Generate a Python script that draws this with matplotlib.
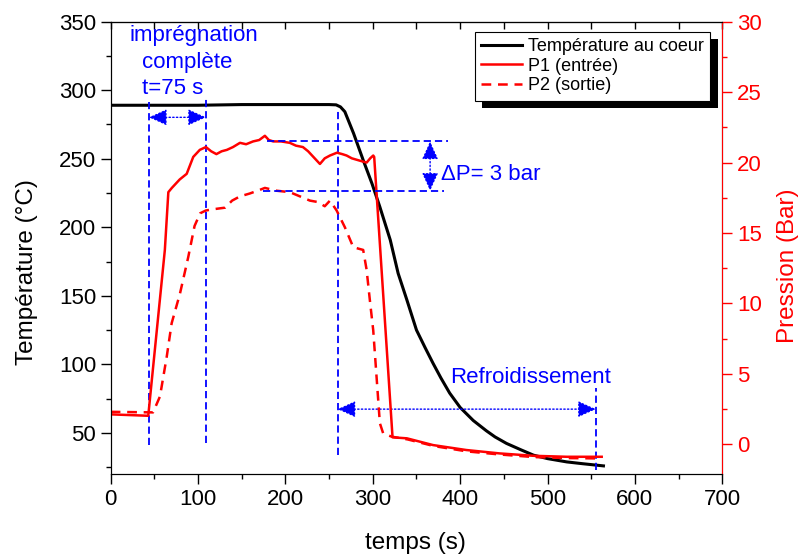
import matplotlib.pyplot as plt
from matplotlib.patches import Rectangle
from matplotlib.ticker import MultipleLocator
from matplotlib.transforms import IdentityTransform

plt.rcParams["font.family"] = ["Liberation Sans", "DejaVu Sans"]

BLUE = "#0000ff"
RED = "#ff0000"

# Température au coeur (°C), left axis
t_temp = [0, 50, 100, 150, 200, 250, 258, 263, 268, 278, 289, 299, 308, 320, 329, 339,
          350, 360, 369, 378, 388, 400, 415, 430, 440, 453, 470, 484, 500, 522, 540, 564]
temp = [289, 289, 289, 289.5, 289.5, 289.5, 289.3, 287.8, 284.3, 268.5, 249, 232, 215, 190.7,
        166.4, 147, 125, 112, 100.7, 90, 79, 68.5, 59, 51.5, 47, 42.3, 37.5, 33.7, 31.2, 28.8,
        27.5, 25.9]

# P1 (entrée), bar, right axis
t_p1 = [0, 43, 62, 66, 70, 79, 87, 94.5, 102, 109, 115, 121, 127, 133, 140, 148, 155, 163,
        170, 176.5, 181, 186, 195, 205, 212, 220, 226, 232, 239.5, 245, 251, 259, 265, 270,
        276, 281.5, 287, 293, 297, 300.5, 301.6, 322.6, 339, 369, 407, 445, 484, 522, 562]
p1 = [2.13, 2.03, 13.8, 17.9, 18.2, 18.8, 19.2, 20.4, 20.9, 21.1, 20.8, 20.6, 20.8, 20.9, 21.1,
      21.4, 21.3, 21.5, 21.6, 21.9, 21.6, 21.5, 21.5, 21.4, 21.2, 21.1, 20.8, 20.4, 19.9, 20.3,
      20.5, 20.7, 20.6, 20.5, 20.3, 20.2, 20.1, 20.0, 20.3, 20.5, 20.4, 0.5, 0.43, -0.05, -0.4,
      -0.64, -0.81, -0.88, -0.88]

# P2 (sortie), bar, right axis
t_p2 = [0, 48.5, 56.4, 64.1, 69.8, 79.3, 88.8, 96, 102.4, 109, 119, 131, 139, 148, 159, 168,
        176.5, 190, 205, 216.6, 228, 237, 245, 251, 258.6, 268.1, 277.6, 283, 289, 292.9, 296.7,
        300.5, 308.1, 311.9, 321.5, 340, 370, 408, 446, 484, 522, 562]
p2 = [2.31, 2.27, 3.4, 6.2, 8.6, 10.7, 13.3, 15.5, 16.4, 16.6, 16.7, 16.8, 17.3, 17.6, 17.8, 18.0,
      18.2, 18.0, 17.9, 17.6, 17.3, 17.2, 16.9, 17.3, 16.6, 15.4, 14.0, 13.9, 13.8, 12.4, 10.2,
      8.1, 1.5, 0.78, 0.55, 0.35, -0.12, -0.5, -0.72, -0.9, -0.97, -1.0]


def double_arrow(axis, x0, y0, x1, y1):
    axis.annotate(
        "",
        xy=(x1, y1),
        xytext=(x0, y0),
        arrowprops=dict(
            arrowstyle="<|-|>,head_length=0.55,head_width=0.25",
            color=BLUE,
            lw=1,
            linestyle=":",
            shrinkA=0,
            shrinkB=0,
            mutation_scale=20,
        ),
    )


fig, ax = plt.subplots(figsize=(7.98, 5.55), dpi=100)
fig.subplots_adjust(left=0.1387, right=0.9051, top=0.961, bottom=0.146)
ax2 = ax.twinx()

(l_t,) = ax.plot(t_temp, temp, color="black", lw=2.2, label="Température au coeur")
(l_p1,) = ax2.plot(t_p1, p1, color=RED, lw=1.8, label="P1 (entrée)")
(l_p2,) = ax2.plot(t_p2, p2, color=RED, lw=1.8, ls=(0, (3.9, 2.7)), label="P2 (sortie)")

ax.set_xlim(0, 700)
ax.set_ylim(20, 350)
ax2.set_ylim(-2.1, 30)

# blue construction lines
dash = dict(color=BLUE, lw=1.3, ls=(0, (4, 2.2)))
ax.plot([43.8, 43.8], [41, 291.6], **dash)
ax.plot([109, 109], [42.3, 293.4], **dash)
ax.plot([259.7, 259.7], [33.7, 285.5], **dash)
ax.plot([555.3, 555.3], [22.8, 82.4], **dash)
ax2.plot([178.5, 386], [21.5, 21.5], **dash)
ax2.plot([174, 382], [18.0, 18.0], **dash)

double_arrow(ax, 43.8, 280.2, 109, 280.2)
double_arrow(ax2, 365.6, 21.5, 365.6, 18.0)
double_arrow(ax, 259.7, 67.3, 555.3, 67.3)

txt = dict(color=BLUE, fontsize=16, va="baseline", ha="left")
ax.text(21, 336.1, "imprégnation", **txt)
ax.text(35.4, 316.4, "complète", **txt)
ax.text(35.4, 297.0, "t=75 s", **txt)
ax.text(388.2, 86.5, "Refroidissement", **txt)
ax2.text(378, 18.76, "ΔP= 3 bar", **txt)

# ticks
ax.xaxis.set_major_locator(MultipleLocator(100))
ax.xaxis.set_minor_locator(MultipleLocator(50))
ax.yaxis.set_major_locator(MultipleLocator(50))
ax.yaxis.set_minor_locator(MultipleLocator(25))
ax2.yaxis.set_major_locator(MultipleLocator(5))
ax2.yaxis.set_minor_locator(MultipleLocator(2.5))
for a in (ax, ax2):
    a.tick_params(which="major", direction="out", length=7, width=1, labelsize=16)
    a.tick_params(which="minor", direction="out", length=3.6, width=1)
ax2.tick_params(axis="y", which="both", colors=RED)
ax2.spines["right"].set_color(RED)

top = ax.secondary_xaxis("top")
top.xaxis.set_major_locator(MultipleLocator(100))
top.xaxis.set_minor_locator(MultipleLocator(50))
top.tick_params(which="both", direction="in", length=5, width=1, labeltop=False)

ax.set_xlabel("temps (s)", fontsize=17.5)
ax.set_ylabel("Température (°C)", fontsize=17.5)
ax2.set_ylabel("Pression (Bar)", fontsize=17.5, color=RED)
ax.xaxis.set_label_coords(0.499, -0.128)
ax.yaxis.set_label_coords(-0.119, 0.447)
ax2.yaxis.set_label_coords(1.089, 0.46)

leg = ax2.legend(
    handles=[l_t, l_p1, l_p2],
    loc="upper right",
    bbox_to_anchor=(710 / 798, 1 - 31.7 / 555),
    bbox_transform=fig.transFigure,
    borderaxespad=0,
    fontsize=13,
    frameon=True,
    fancybox=False,
    framealpha=1,
    edgecolor="black",
    handlelength=2.3,
    handletextpad=0.3,
    labelspacing=0.15,
    borderpad=0.35,
)
leg.get_frame().set_linewidth(0.8)

# Origin-style hard shadow behind the legend
fig.canvas.draw()
bb = leg.get_window_extent(fig.canvas.get_renderer())
shadow = Rectangle(
    (bb.x0 + 7.5, bb.y0 - 7.5),
    bb.width,
    bb.height,
    transform=IdentityTransform(),
    facecolor="black",
    edgecolor="none",
    zorder=leg.get_zorder() - 0.1,
    clip_on=False,
)
ax2.add_artist(shadow)

fig.savefig("out.png", dpi=100)
